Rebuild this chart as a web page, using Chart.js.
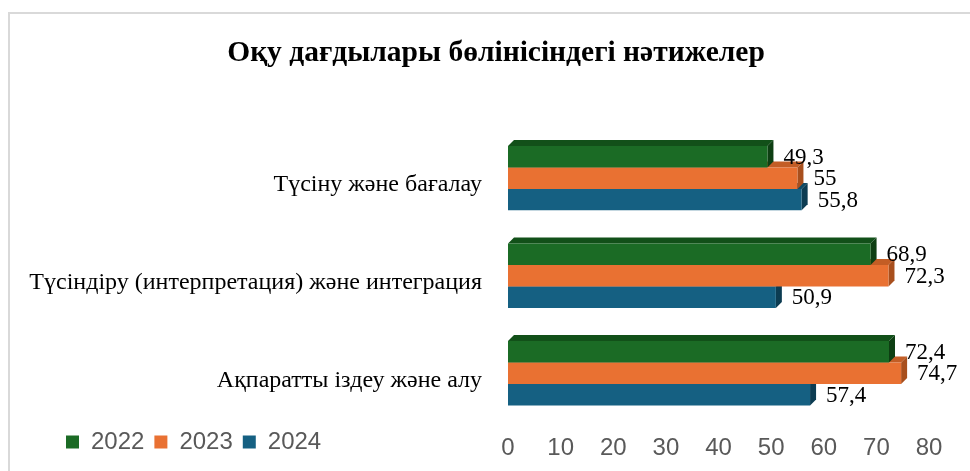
<!DOCTYPE html>
<html lang="kk">
<head>
<meta charset="utf-8">
<title>Оқу дағдылары бөлінісіндегі нәтижелер</title>
<script src="https://cdn.jsdelivr.net/npm/chart.js@4.4.1/dist/chart.umd.min.js"></script>
<style>
  html, body { margin: 0; padding: 0; background: #fff; }
  #wrap { position: relative; width: 970px; height: 471px; overflow: hidden; }
  #frame { position: absolute; left: 8px; top: 12px; right: -4px; bottom: -4px;
           border-top: 2px solid #d9d9d9; border-left: 2px solid #d9d9d9; }
  canvas { position: relative; }
</style>
</head>
<body>
<div id="wrap">
  <div id="frame"></div>
  <canvas id="results-chart"></canvas>
</div>
<script>
const categories = [
    'Түсіну және бағалау',
    'Түсіндіру (интерпретация) және интеграция',
    'Ақпаратты іздеу және алу'
];
const years = ['2022', '2023', '2024'];
const values2022 = [49.3, 68.9, 72.4];
const values2023 = [55, 72.3, 74.7];
const values2024 = [55.8, 50.9, 57.4];
const xTicks = [0, 10, 20, 30, 40, 50, 60, 70, 80];

// front / top / side colours of the 3D bars
const frontColors = ['#1b6b25', '#e97132', '#156082'];
const topColors = ['#125019', '#c35d25', '#104b66'];
const sideColors = ['#0e3f13', '#a84f1d', '#0c3c52'];
const DEPTH = 6;

const serif = '"Liberation Serif", "Times New Roman", serif';
const sans = '"Liberation Sans", Arial, sans-serif';

// fake 3D: top and side faces drawn before the fronts, bottom bar first
const bars3d = {
    id: 'bars3d',
    beforeDatasetsDraw(chart) {
        const ctx = chart.ctx;
        ctx.save();
        for (let i = chart.data.datasets.length - 1; i >= 0; i--) {
            chart.getDatasetMeta(i).data.forEach(bar => {
                const { x, y, base, height } = bar.getProps(['x', 'y', 'base', 'height'], true);
                const top = y - height / 2;
                const bottom = y + height / 2;

                ctx.fillStyle = topColors[i];
                ctx.beginPath();
                ctx.moveTo(base, top);
                ctx.lineTo(base + DEPTH, top - DEPTH);
                ctx.lineTo(x + DEPTH, top - DEPTH);
                ctx.lineTo(x, top);
                ctx.closePath();
                ctx.fill();

                ctx.fillStyle = sideColors[i];
                ctx.beginPath();
                ctx.moveTo(x, top);
                ctx.lineTo(x + DEPTH, top - DEPTH);
                ctx.lineTo(x + DEPTH, bottom - DEPTH);
                ctx.lineTo(x, bottom);
                ctx.closePath();
                ctx.fill();
            });
        }
        ctx.restore();
    },
    afterDatasetsDraw(chart) {
        const ctx = chart.ctx;
        ctx.save();
        ctx.font = '23px ' + serif;
        ctx.fillStyle = '#000';
        ctx.textAlign = 'left';
        ctx.textBaseline = 'middle';
        chart.data.datasets.forEach((ds, i) => {
            chart.getDatasetMeta(i).data.forEach((bar, j) => {
                const label = String(ds.data[j]).replace('.', ',');
                ctx.fillText(label, bar.x + 16, bar.y + 1);
            });
        });
        ctx.restore();
    }
};

// legend goes on the same row as the value axis (bottom left),
// title is centred a bit right of the default
const placeBoxes = {
    id: 'placeBoxes',
    afterLayout(chart) {
        const lg = chart.legend;
        const h = lg.bottom - lg.top;
        const w = lg.right - lg.left;
        lg.top = chart.chartArea.bottom - 2;
        lg.bottom = lg.top + h;
        lg.left = 56;
        lg.right = lg.left + w;

        chart.titleBlock.left = 63;
    }
};

const ctx = document.getElementById('results-chart').getContext('2d');

new Chart(ctx, {
    type: 'bar',
    data: {
        labels: categories,
        datasets: [
            { label: years[0], data: values2022, backgroundColor: frontColors[0] },
            { label: years[1], data: values2023, backgroundColor: frontColors[1] },
            { label: years[2], data: values2024, backgroundColor: frontColors[2] }
        ]
    },
    options: {
        indexAxis: 'y',
        responsive: true,
        maintainAspectRatio: false,
        animation: false,
        layout: { padding: { left: 0, right: 41, top: 0, bottom: 0 } },
        datasets: {
            bar: { barPercentage: 1, categoryPercentage: 0.66 }
        },
        scales: {
            x: {
                min: 0,
                max: 80,
                grid: { display: false, drawTicks: false },
                border: { display: false },
                afterBuildTicks: scale => {
                    scale.ticks = xTicks.map(v => ({ value: v }));
                },
                afterFit: scale => { scale.height = 49; },
                ticks: {
                    color: '#595959',
                    font: { family: sans, size: 24 },
                    padding: 12
                }
            },
            y: {
                grid: { display: false, drawTicks: false },
                border: { display: false },
                afterFit: scale => { scale.width = 508; },
                ticks: {
                    color: '#000',
                    font: { family: serif, size: 24 },
                    padding: 26,
                    labelOffset: 7
                }
            }
        },
        plugins: {
            title: {
                display: true,
                text: 'Оқу дағдылары бөлінісіндегі нәтижелер',
                color: '#000',
                font: { family: serif, size: 29.5, weight: 'bold' },
                padding: { top: 36, bottom: 14 }
            },
            legend: {
                position: 'top',
                align: 'start',
                labels: {
                    boxWidth: 13,
                    boxHeight: 13,
                    padding: 10,
                    color: '#595959',
                    font: { family: sans, size: 24 }
                }
            },
            tooltip: { enabled: false }
        }
    },
    plugins: [bars3d, placeBoxes]
});
</script>
</body>
</html>
